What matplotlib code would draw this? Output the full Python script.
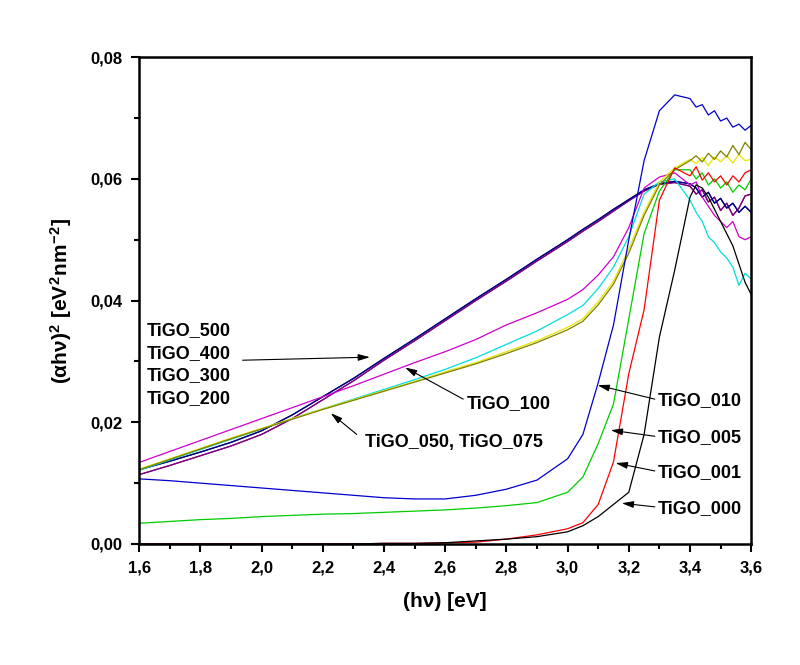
import matplotlib
matplotlib.use("Agg")
import matplotlib.pyplot as plt
from matplotlib.ticker import MultipleLocator, FuncFormatter

plt.rcParams['font.family'] = ['Liberation Sans', 'DejaVu Sans']
plt.rcParams['mathtext.fontset'] = 'custom'
plt.rcParams['mathtext.rm'] = 'Liberation Sans:bold'
plt.rcParams['mathtext.it'] = 'Liberation Sans:bold'
plt.rcParams['mathtext.bf'] = 'Liberation Sans:bold'

# photon energy grid (eV)
energy = [1.6, 1.7, 1.8, 1.9, 2.0, 2.1, 2.2, 2.3, 2.4, 2.5, 2.6, 2.7, 2.8, 2.9,
          3.0, 3.05, 3.1, 3.15, 3.2, 3.25, 3.3, 3.35, 3.4, 3.42, 3.44, 3.46,
          3.48, 3.5, 3.52, 3.54, 3.56, 3.58, 3.6]

tigo_000 = [0.0, 0.0, 0.0, 0.0, 0.0, 0.0, 0.0, 0.0, 0.0001, 0.0001, 0.0002, 0.0005, 0.0008, 0.0012,
            0.0020, 0.0030, 0.0045, 0.0065, 0.0085, 0.0180, 0.0340, 0.0450, 0.0570, 0.0590, 0.0585, 0.0570,
            0.0550, 0.0530, 0.0510, 0.0490, 0.0460, 0.0430, 0.0410]
tigo_001 = [0.0, 0.0, 0.0, 0.0, 0.0, 0.0, 0.0, 0.0, 0.0001, 0.0001, 0.0002, 0.0003, 0.0008, 0.0015,
            0.0025, 0.0035, 0.0065, 0.0135, 0.0280, 0.0385, 0.0565, 0.0618, 0.0605, 0.0620, 0.0598, 0.0610,
            0.0595, 0.0605, 0.0590, 0.0605, 0.0595, 0.0610, 0.0615]
tigo_005 = [0.0034, 0.0037, 0.0040, 0.0042, 0.0045, 0.0047, 0.0049, 0.0050, 0.0052, 0.0054, 0.0056, 0.0059, 0.0063, 0.0068,
            0.0085, 0.0110, 0.0165, 0.0230, 0.0370, 0.0510, 0.0580, 0.0615, 0.0615, 0.0600, 0.0610, 0.0590,
            0.0600, 0.0585, 0.0595, 0.0578, 0.0590, 0.0582, 0.0600]
tigo_010 = [0.0107, 0.0104, 0.0100, 0.0096, 0.0092, 0.0088, 0.0084, 0.0080, 0.0076, 0.0074, 0.0074, 0.0080, 0.0090, 0.0105,
            0.0140, 0.0180, 0.0265, 0.0360, 0.0500, 0.0630, 0.0712, 0.0738, 0.0732, 0.0718, 0.0722, 0.0705,
            0.0712, 0.0695, 0.0700, 0.0685, 0.0690, 0.0680, 0.0688]
tigo_050 = [0.0123, 0.0140, 0.0157, 0.0174, 0.0190, 0.0206, 0.0222, 0.0237, 0.0252, 0.0267, 0.0283, 0.0298, 0.0316, 0.0334,
            0.0356, 0.0370, 0.0398, 0.0432, 0.0485, 0.0545, 0.0595, 0.0618, 0.0632, 0.0625, 0.0635, 0.0622,
            0.0636, 0.0628, 0.0638, 0.0626, 0.0640, 0.0630, 0.0632]
tigo_075 = [0.0122, 0.0139, 0.0156, 0.0173, 0.0189, 0.0205, 0.0221, 0.0236, 0.0251, 0.0266, 0.0281, 0.0296, 0.0313, 0.0331,
            0.0352, 0.0366, 0.0393, 0.0427, 0.0478, 0.0540, 0.0590, 0.0615, 0.0630, 0.0638, 0.0628, 0.0642,
            0.0632, 0.0646, 0.0636, 0.0655, 0.0640, 0.0660, 0.0648]
tigo_100 = [0.0134, 0.0152, 0.0170, 0.0188, 0.0206, 0.0224, 0.0242, 0.0260, 0.0279, 0.0298, 0.0316, 0.0336, 0.0360, 0.0380,
            0.0402, 0.0418, 0.0442, 0.0472, 0.0520, 0.0585, 0.0603, 0.0610, 0.0590, 0.0595, 0.0570, 0.0555,
            0.0540, 0.0530, 0.0520, 0.0530, 0.0505, 0.0500, 0.0505]
tigo_cyan = [0.0121, 0.0138, 0.0155, 0.0172, 0.0189, 0.0206, 0.0222, 0.0238, 0.0254, 0.0270, 0.0287, 0.0306, 0.0328, 0.0350,
             0.0377, 0.0392, 0.0420, 0.0455, 0.0505, 0.0575, 0.0595, 0.0600, 0.0565, 0.0545, 0.0530, 0.0505,
             0.0495, 0.0480, 0.0470, 0.0455, 0.0425, 0.0445, 0.0435]
tigo_500 = [0.0122, 0.0136, 0.0151, 0.0167, 0.0186, 0.0212, 0.0242, 0.0272, 0.0305, 0.0337, 0.0370, 0.0403, 0.0435, 0.0468,
            0.0500, 0.0517, 0.0533, 0.0550, 0.0566, 0.0582, 0.0592, 0.0596, 0.0592, 0.0585, 0.0570, 0.0578,
            0.0560, 0.0568, 0.0552, 0.0560, 0.0545, 0.0555, 0.0545]
tigo_400 = tigo_500
tigo_300 = [0.0114, 0.0129, 0.0145, 0.0161, 0.0180, 0.0206, 0.0237, 0.0268, 0.0302, 0.0334, 0.0367, 0.0400, 0.0432, 0.0465,
            0.0497, 0.0514, 0.0530, 0.0547, 0.0564, 0.0580, 0.0591, 0.0594, 0.0588, 0.0575, 0.0582, 0.0562,
            0.0570, 0.0548, 0.0560, 0.0540, 0.0552, 0.0572, 0.0575]
tigo_200 = tigo_300

series = [
    ("TiGO_200", tigo_200, "#800080"),
    ("TiGO_300", tigo_300, "#800080"),
    ("TiGO_400", tigo_400, "#000080"),
    ("TiGO_500", tigo_500, "#000080"),
    ("TiGO_100", tigo_100, "#CC00CC"),
    ("TiGO_cyan", tigo_cyan, "#00DDDD"),
    ("TiGO_050", tigo_050, "#E6E600"),
    ("TiGO_075", tigo_075, "#808000"),
    ("TiGO_010", tigo_010, "#0000CC"),
    ("TiGO_005", tigo_005, "#00CC00"),
    ("TiGO_001", tigo_001, "#FF0000"),
    ("TiGO_000", tigo_000, "#000000"),
]

fig = plt.figure(figsize=(8.0, 6.65), dpi=100)
ax = fig.add_axes([0.174, 0.182, 0.765, 0.732])

for name, vals, col in series:
    ax.plot(energy, vals, color=col, lw=0.9)

ax.set_xlim(1.6, 3.6)
ax.set_ylim(0.0, 0.08)
ax.xaxis.set_major_locator(MultipleLocator(0.2))
ax.xaxis.set_minor_locator(MultipleLocator(0.1))
ax.yaxis.set_major_locator(MultipleLocator(0.02))
ax.yaxis.set_minor_locator(MultipleLocator(0.01))
ax.xaxis.set_major_formatter(FuncFormatter(lambda v, p: f"{v:.1f}".replace('.', ',')))
ax.yaxis.set_major_formatter(FuncFormatter(lambda v, p: f"{v:.2f}".replace('.', ',')))
ax.tick_params(axis='both', which='major', direction='out', length=6, width=1.5,
               labelsize=12, pad=6)
ax.tick_params(axis='both', which='minor', direction='out', length=3.5, width=1.5)
for lab in ax.get_xticklabels() + ax.get_yticklabels():
    lab.set_fontweight('bold')
for s in ax.spines.values():
    s.set_linewidth(1.8)

ax.set_xlabel("(hν) [eV]", fontsize=15, fontweight='bold', labelpad=12)
ax.set_ylabel(r"$(\alpha h\nu)^2\ [eV^2nm^{-2}]$", fontsize=15, labelpad=12)

tkw = dict(fontsize=13, fontweight='bold', va='center', ha='left')
ap = dict(arrowstyle='-|>,head_length=0.7,head_width=0.2', color='black', lw=0.8,
          shrinkA=0, shrinkB=0)

for i, lbl in enumerate(["TiGO_500", "TiGO_400", "TiGO_300", "TiGO_200"]):
    ax.text(1.626, 0.0351 - i * 0.00375, lbl, **tkw)
ax.annotate("", xy=(2.354, 0.0307), xytext=(1.938, 0.0302), arrowprops=ap)

ax.text(2.669, 0.0231, "TiGO_100", **tkw)
ax.annotate("", xy=(2.469, 0.0290), xytext=(2.659, 0.0238), arrowprops=ap)

ax.text(2.338, 0.0167, "TiGO_050, TiGO_075", **tkw)
ax.annotate("", xy=(2.226, 0.0215), xytext=(2.311, 0.0180), arrowprops=ap)

right = [("TiGO_010", 0.0236, (3.098, 0.0261)),
         ("TiGO_005", 0.0175, (3.141, 0.0187)),
         ("TiGO_001", 0.0118, (3.157, 0.0133)),
         ("TiGO_000", 0.0059, (3.177, 0.0067))]
for lbl, yy, tip in right:
    ax.text(3.295, yy, lbl, **tkw)
    ax.annotate("", xy=tip, xytext=(3.285, yy + 0.0002), arrowprops=ap)

fig.savefig("out.png", dpi=100)
